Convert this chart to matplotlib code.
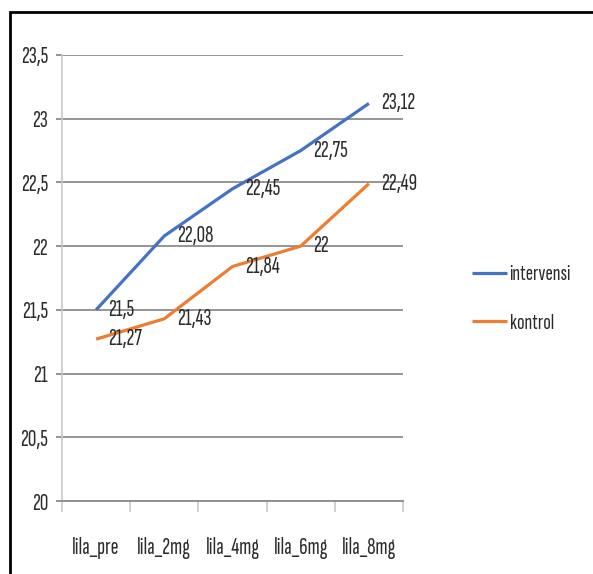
import matplotlib
matplotlib.use("Agg")
import matplotlib.pyplot as plt
from matplotlib.patches import Rectangle

plt.rcParams['font.family'] = ['Sofia Sans Extra Condensed', 'DejaVu Sans']

categories = ["lila_pre", "lila_2mg", "lila_4mg", "lila_6mg", "lila_8mg"]
intervensi = [21.5, 22.08, 22.45, 22.75, 23.12]
kontrol = [21.27, 21.43, 21.84, 22.0, 22.49]
y_ticks = [20, 20.5, 21, 21.5, 22, 22.5, 23, 23.5]

BLUE = "#4472C4"
ORANGE = "#ED7D31"
GRID = "#8c8c8c"
TEXT = "#2b2b2b"
FS = 17


def fmt(v):
    # decimal comma, drop trailing zeros
    s = f"{v:.2f}".rstrip("0").rstrip(".")
    return s.replace(".", ",")


fig = plt.figure(figsize=(5.93, 5.74), dpi=100)
ax = fig.add_axes([62 / 593, 1 - 501 / 574, (403 - 62) / 593, (501 - 55) / 574])

x = list(range(len(categories)))
ax.plot(x, intervensi, color=BLUE, lw=2.3, label="intervensi", solid_capstyle="butt")
ax.plot(x, kontrol, color=ORANGE, lw=2.3, label="kontrol", solid_capstyle="butt")

for xi, v in zip(x, intervensi):
    ax.annotate(fmt(v), (xi, v), xytext=(9, 0), textcoords="offset points",
                va="center", ha="left", fontsize=FS, color=TEXT)
for xi, v in zip(x, kontrol):
    ax.annotate(fmt(v), (xi, v), xytext=(9, 0), textcoords="offset points",
                va="center", ha="left", fontsize=FS, color=TEXT)

ax.set_xlim(-0.5, len(categories) - 0.5)
ax.set_ylim(20, 23.5)
ax.set_yticks(y_ticks)
ax.set_yticklabels([fmt(t) for t in y_ticks])
ax.set_xticks(x)
ax.set_xticklabels(categories)
ax.set_xticks([i - 0.5 for i in range(len(categories) + 1)], minor=True)

ax.yaxis.grid(True, color=GRID, lw=1.3)
ax.set_axisbelow(True)
for side in ("top", "right"):
    ax.spines[side].set_visible(False)
ax.spines["left"].set_color("#c8c8c8")
ax.spines["left"].set_linewidth(1.2)
ax.spines["bottom"].set_color(GRID)
ax.spines["bottom"].set_linewidth(1.3)

ax.tick_params(axis="y", length=4, width=1.3, color=GRID, pad=6,
               labelsize=FS, labelcolor=TEXT)
ax.tick_params(axis="x", which="major", length=0, pad=26,
               labelsize=FS, labelcolor=TEXT)
ax.tick_params(axis="x", which="minor", length=8, width=1.2, color="#c8c8c8",
               direction="out")

leg = fig.legend(loc="upper left", bbox_to_anchor=(463 / 593, 1 - 256 / 574),
                 frameon=False, fontsize=16, handlelength=1.6,
                 handletextpad=0.1, labelspacing=1.3, borderaxespad=0)
for t in leg.get_texts():
    t.set_color(TEXT)

# outer frame around the chart area
fig.patches.append(Rectangle((10 / 593, -0.1), 1.2, 1.1 - 12 / 574,
                             transform=fig.transFigure, fill=False,
                             edgecolor="black", lw=2, clip_on=False))

fig.savefig("out.png", dpi=100)
